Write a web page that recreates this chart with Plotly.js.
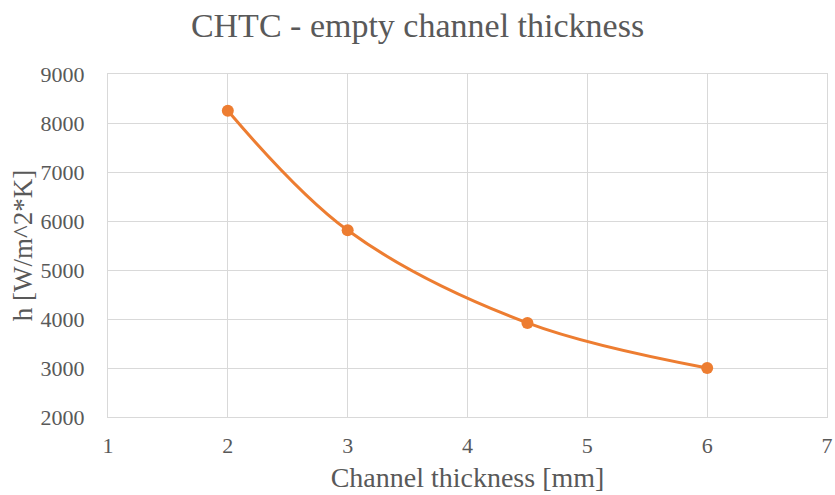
<!DOCTYPE html>
<html><head><meta charset="utf-8">
<script src="https://cdn.plot.ly/plotly-3.0.1.min.js"></script>
<style>html,body{margin:0;padding:0;background:#fff}#chart{width:835px;height:495px}</style>
</head><body><div id="chart"></div>
<script>
const thickness = [2, 3, 4.5, 6];
const htc = [8250, 5810, 3920, 3000];
const chartTitle = 'CHTC - empty channel thickness';
const xTitle = 'Channel thickness [mm]';
const yTitle = 'h [W/m^2*K]';

const serif = 'Liberation Serif, Times New Roman, serif';
const textColor = '#595959';
const gridColor = '#d9d9d9';

Plotly.newPlot('chart', [{
  x: thickness, y: htc, type: 'scatter', mode: 'lines+markers',
  line: {color: '#ED7D31', width: 3, shape: 'spline', smoothing: 1},
  marker: {color: '#ED7D31', size: 12},
  hoverinfo: 'x+y'
}], {
  width: 835, height: 495,
  margin: {l: 108, r: 8, t: 74, b: 78},
  paper_bgcolor: '#fff', plot_bgcolor: '#fff',
  showlegend: false,
  title: {text: chartTitle, font: {family: serif, size: 34, color: textColor}, x: 0.5, xanchor: 'center', y: 0.95, yanchor: 'middle'},
  xaxis: {
    range: [1, 7], dtick: 1, tick0: 1,
    showgrid: true, gridcolor: gridColor, gridwidth: 1,
    showline: true, linecolor: gridColor, linewidth: 1, mirror: true,
    zeroline: false, ticks: '', ticklabelstandoff: 9,
    tickfont: {family: serif, size: 22, color: textColor},
    title: {text: xTitle, font: {family: serif, size: 28, color: textColor}, standoff: 9}
  },
  yaxis: {
    range: [2000, 9000], dtick: 1000,
    showgrid: true, gridcolor: gridColor, gridwidth: 1,
    showline: true, linecolor: gridColor, linewidth: 1, mirror: true,
    zeroline: false, ticks: '', ticklabelstandoff: 18,
    tickfont: {family: serif, size: 22, color: textColor}
  },
  annotations: [{
    text: yTitle, xref: 'paper', yref: 'paper', x: -0.118, y: 0.4985,
    xanchor: 'center', yanchor: 'middle', textangle: -90, showarrow: false,
    font: {family: serif, size: 27, color: textColor}
  }]
}, {staticPlot: true, displayModeBar: false});
</script></body></html>
